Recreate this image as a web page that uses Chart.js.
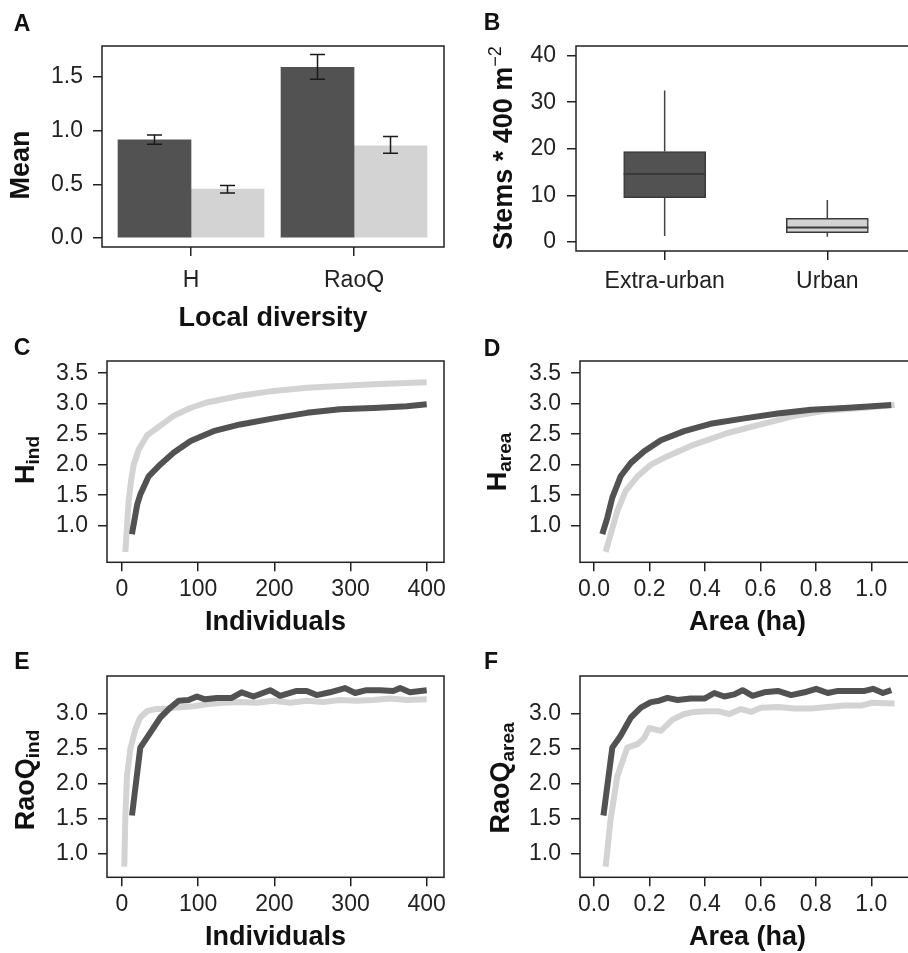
<!DOCTYPE html>
<html><head><meta charset="utf-8">
<script src="https://cdn.jsdelivr.net/npm/chart.js@4.4.1/dist/chart.umd.min.js"></script>
<style>
html,body{margin:0;padding:0;background:#fff;overflow:hidden}
#fig{position:relative;width:908px;height:953px;overflow:hidden;background:#fff}
#fig canvas{position:absolute}
.lbl{position:absolute;font-family:"Liberation Sans",Arial,Helvetica,sans-serif;color:#111;white-space:nowrap;line-height:1}
.letter{font-weight:bold;font-size:23px;transform:translate(-50%,-50%)}
.ytitle{font-weight:bold;font-size:27px;transform:translate(-50%,-50%) rotate(-90deg)}
.ytitle sub{font-size:19px;line-height:0;vertical-align:-0.3em}
.ytitle sup{font-size:18px;font-weight:normal;line-height:0;vertical-align:0.6em}
</style></head><body>
<div id="fig">
<canvas id="cA" width="454" height="350" style="left:0;top:0"></canvas>
<canvas id="cB" width="470" height="330" style="left:454px;top:0"></canvas>
<canvas id="cC" width="454" height="330" style="left:0;top:320px"></canvas>
<canvas id="cD" width="470" height="330" style="left:454px;top:320px"></canvas>
<canvas id="cE" width="454" height="330" style="left:0;top:635px"></canvas>
<canvas id="cF" width="470" height="330" style="left:454px;top:635px"></canvas>
<div class="lbl letter" style="left:22px;top:23px">A</div>
<div class="lbl letter" style="left:492px;top:22px">B</div>
<div class="lbl letter" style="left:22px;top:347px">C</div>
<div class="lbl letter" style="left:492px;top:348px">D</div>
<div class="lbl letter" style="left:22px;top:661px">E</div>
<div class="lbl letter" style="left:491px;top:661px">F</div>
<div class="lbl ytitle" style="left:20px;top:165px">Mean</div>
<div class="lbl ytitle" style="left:503px;top:148px">Stems * 400 m<sup>−2</sup></div>
<div class="lbl ytitle" style="left:25px;top:460px">H<sub>ind</sub></div>
<div class="lbl ytitle" style="left:497px;top:462px">H<sub>area</sub></div>
<div class="lbl ytitle" style="left:25px;top:780px">RaoQ<sub>ind</sub></div>
<div class="lbl ytitle" style="left:500px;top:778px">RaoQ<sub>area</sub></div>
</div>
<script>
// ---------- DATA ----------
// Panel A: local diversity means (extra-urban dark, urban light)
const catA = ['H', 'RaoQ'];
const meanExtra = [0.915, 1.59];
const meanUrban = [0.456, 0.86];
const errExtraLo = [0.875, 1.48];
const errExtraHi = [0.96, 1.71];
const errUrbanLo = [0.42, 0.79];
const errUrbanHi = [0.49, 0.947];
const ticksA = [0, 0.5, 1.0, 1.5];

// Panel B: stem density boxplots
const catB = ['Extra-urban', 'Urban'];
const boxMin = [1.3, 1.15];
const boxQ1 = [9.5, 2.0];
const boxMed = [14.6, 3.1];
const boxQ3 = [19.4, 5.1];
const boxMax = [32.5, 9.0];
const ticksB = [0, 10, 20, 30, 40];

// Panel C: H vs individuals
const cDarkX = [13, 20, 24, 35, 50, 68, 90, 120, 155, 199, 243, 286, 330, 374, 400];
const cDarkY = [0.86, 1.35, 1.51, 1.81, 2.0, 2.2, 2.39, 2.55, 2.66, 2.76, 2.85, 2.91, 2.93, 2.96, 2.99];
const cLightX = [4.4, 6.5, 8.7, 11.8, 15.3, 21.9, 32.8, 45.9, 67.7, 89.6, 111, 155, 199, 243, 286, 330, 400];
const cLightY = [0.57, 0.97, 1.40, 1.73, 2.0, 2.25, 2.48, 2.60, 2.80, 2.93, 3.02, 3.13, 3.21, 3.26, 3.29, 3.32, 3.35];

// Panel D: H vs area
const dDarkX = [0.030, 0.048, 0.066, 0.096, 0.133, 0.181, 0.241, 0.325, 0.42, 0.542, 0.663, 0.783, 0.904, 1.072];
const dDarkY = [0.86, 1.13, 1.46, 1.81, 2.03, 2.22, 2.40, 2.55, 2.67, 2.76, 2.84, 2.90, 2.93, 2.98];
const dLightX = [0.042, 0.060, 0.084, 0.114, 0.157, 0.205, 0.265, 0.361, 0.482, 0.602, 0.723, 0.843, 0.964, 1.084];
const dLightY = [0.57, 0.86, 1.24, 1.57, 1.81, 2.0, 2.14, 2.33, 2.52, 2.66, 2.80, 2.89, 2.93, 2.98];

// Panel E: RaoQ vs individuals
const eDarkX = [13.1, 24, 37, 50.3, 63.4, 74.3, 87.4, 98.3, 109, 124.5, 144, 157, 172.6, 194.5, 207.6, 229.4, 242.5, 255.6, 273, 292.8, 306, 321, 338.7, 356, 365, 378, 400];
const eDarkY = [1.55, 2.52, 2.73, 2.95, 3.09, 3.19, 3.20, 3.25, 3.21, 3.23, 3.23, 3.31, 3.25, 3.34, 3.26, 3.33, 3.33, 3.27, 3.31, 3.37, 3.30, 3.34, 3.34, 3.33, 3.37, 3.31, 3.34];
const eLightX = [3, 4.4, 6.5, 10.9, 17.5, 24, 32.8, 43.7, 56.8, 67.7, 80.8, 94, 111, 133, 155, 177, 199, 221, 242.5, 264, 286, 308, 330, 352, 374, 400];
const eLightY = [0.82, 1.54, 2.11, 2.50, 2.78, 2.95, 3.04, 3.07, 3.07, 3.09, 3.10, 3.11, 3.14, 3.16, 3.17, 3.16, 3.19, 3.16, 3.19, 3.17, 3.20, 3.19, 3.20, 3.22, 3.20, 3.21];

// Panel F: RaoQ vs area
const fDarkX = [0.034, 0.066, 0.096, 0.133, 0.169, 0.205, 0.235, 0.265, 0.301, 0.349, 0.398, 0.434, 0.470, 0.506, 0.536, 0.572, 0.614, 0.663, 0.711, 0.759, 0.801, 0.843, 0.88, 0.928, 0.976, 1.006, 1.042, 1.072];
const fDarkY = [1.55, 2.52, 2.69, 2.95, 3.09, 3.17, 3.19, 3.23, 3.20, 3.22, 3.22, 3.30, 3.25, 3.28, 3.34, 3.26, 3.31, 3.33, 3.27, 3.31, 3.36, 3.30, 3.33, 3.33, 3.33, 3.36, 3.30, 3.34];
const fLightX = [0.042, 0.060, 0.084, 0.12, 0.157, 0.181, 0.199, 0.241, 0.283, 0.325, 0.361, 0.41, 0.446, 0.488, 0.53, 0.566, 0.602, 0.663, 0.723, 0.783, 0.843, 0.904, 0.964, 1.0, 1.084];
const fLightY = [0.82, 1.50, 2.11, 2.52, 2.57, 2.66, 2.80, 2.76, 2.92, 3.0, 3.03, 3.04, 3.04, 3.0, 3.07, 3.03, 3.09, 3.10, 3.08, 3.08, 3.10, 3.12, 3.12, 3.16, 3.15];

const ticksHY = [1.0, 1.5, 2.0, 2.5, 3.0, 3.5];
const ticksRaoY = [1.0, 1.5, 2.0, 2.5, 3.0];
const ticksInd = [0, 100, 200, 300, 400];
const ticksArea = [0, 0.2, 0.4, 0.6, 0.8, 1.0];

// ---------- STYLE / HELPERS ----------
const FONT = "'Liberation Sans', Arial, Helvetica, sans-serif";
const INK = '#222222';
const DARK = '#525252';
const LIGHT = '#d3d3d3';
const f1 = v => Number(v).toFixed(1);
const f0 = v => String(Math.round(v));

function gridOpts() {
  return { display: true, drawOnChartArea: false, drawTicks: true, tickLength: 9, offset: false,
           lineWidth: 1.5, tickWidth: 1.5, color: INK, tickColor: INK };
}
function yAxis(min, max, ticks, fmt, width, pad) {
  return {
    type: 'linear', position: 'left', min, max, bounds: 'data', offset: false,
    afterBuildTicks: s => { s.ticks = ticks.map(v => ({ value: v })); },
    afterFit: s => { s.width = width; s.paddingTop = 0; s.paddingBottom = 0; },
    ticks: { callback: v => fmt(v), color: INK, font: { family: FONT, size: 23 }, padding: pad, autoSkip: false },
    grid: gridOpts(), border: { display: false }
  };
}
function xAxis(min, max, ticks, fmt, height, pad, title, titlePb) {
  return {
    type: 'linear', position: 'bottom', min, max, bounds: 'data', offset: false,
    afterBuildTicks: s => { s.ticks = ticks.map(v => ({ value: v })); },
    afterFit: s => { s.height = height; s.paddingLeft = 0; s.paddingRight = 0; },
    ticks: { callback: v => fmt(v), color: INK, font: { family: FONT, size: 23 }, padding: pad, autoSkip: false, maxRotation: 0, minRotation: 0 },
    grid: gridOpts(), border: { display: false },
    title: title ? { display: true, text: title, color: '#111', font: { family: FONT, size: 27, weight: 'bold' }, padding: { top: 0, bottom: titlePb } } : { display: false }
  };
}
const framePlugin = {
  id: 'frame',
  afterDraw(chart) {
    const { ctx, chartArea: a } = chart;
    ctx.save();
    ctx.strokeStyle = INK; ctx.lineWidth = 1.5;
    ctx.strokeRect(a.left, a.top, a.right - a.left, a.bottom - a.top);
    ctx.restore();
  }
};
const errPlugin = {
  id: 'errbars',
  afterDatasetsDraw(chart) {
    const y = chart.scales.y, ctx = chart.ctx;
    ctx.save(); ctx.strokeStyle = '#1a1a1a'; ctx.lineWidth = 1.5;
    chart.data.datasets.forEach((ds, di) => {
      chart.getDatasetMeta(di).data.forEach((bar, i) => {
        const lo = y.getPixelForValue(ds.errLo[i]), hi = y.getPixelForValue(ds.errHi[i]), x = bar.x;
        ctx.beginPath();
        ctx.moveTo(x, lo); ctx.lineTo(x, hi);
        ctx.moveTo(x - 7.5, lo); ctx.lineTo(x + 7.5, lo);
        ctx.moveTo(x - 7.5, hi); ctx.lineTo(x + 7.5, hi);
        ctx.stroke();
      });
    });
    ctx.restore();
  }
};
const boxPlugin = {
  id: 'boxparts',
  afterDatasetsDraw(chart) {
    const y = chart.scales.y, ctx = chart.ctx;
    const ds = chart.data.datasets[0];
    ctx.save();
    chart.getDatasetMeta(0).data.forEach((bar, i) => {
      const x = bar.x, hw = bar.width / 2;
      ctx.strokeStyle = '#444'; ctx.lineWidth = 1.5;
      ctx.beginPath();
      ctx.moveTo(x, y.getPixelForValue(ds.q3[i])); ctx.lineTo(x, y.getPixelForValue(ds.whiskHi[i]));
      ctx.moveTo(x, y.getPixelForValue(ds.q1[i])); ctx.lineTo(x, y.getPixelForValue(ds.whiskLo[i]));
      ctx.stroke();
      ctx.strokeStyle = '#3a3a3a'; ctx.lineWidth = 2;
      ctx.beginPath();
      const m = y.getPixelForValue(ds.median[i]);
      ctx.moveTo(x - hw, m); ctx.lineTo(x + hw, m);
      ctx.stroke();
    });
    ctx.restore();
  }
};
const pts = (xs, ys) => xs.map((x, i) => ({ x, y: ys[i] }));
function lineDs(xs, ys, color) {
  return { type: 'line', data: pts(xs, ys), borderColor: color, backgroundColor: color, borderWidth: 6,
           pointRadius: 0, tension: 0, borderJoinStyle: 'round', borderCapStyle: 'butt', fill: false };
}
const base = (padTop, padRight) => ({
  responsive: false, animation: false, devicePixelRatio: 1,
  layout: { padding: { top: padTop, right: padRight, left: 0, bottom: 0 } },
  plugins: { legend: { display: false }, tooltip: { enabled: false } }
});

// ---------- PANEL A ----------
new Chart(document.getElementById('cA'), {
  type: 'bar',
  data: {
    datasets: [
      { label: 'Extra-urban', data: pts([1, 2], meanExtra), backgroundColor: DARK, borderWidth: 0, errLo: errExtraLo, errHi: errExtraHi },
      { label: 'Urban', data: pts([1, 2], meanUrban), backgroundColor: LIGHT, borderWidth: 0, errLo: errUrbanLo, errHi: errUrbanHi }
    ]
  },
  options: Object.assign(base(46, 10), {
    datasets: { bar: { barThickness: 73, grouped: true } },
    scales: {
      x: xAxis(0.454, 2.552, [1, 2], v => catA[Math.round(v) - 1], 103, 11, 'Local diversity', 14.8),
      y: yAxis(-0.084, 1.79, ticksA, f1, 102, 10)
    }
  }),
  plugins: [errPlugin, framePlugin]
});

// ---------- PANEL B ----------
new Chart(document.getElementById('cB'), {
  type: 'bar',
  data: {
    datasets: [{
      label: 'Stems', data: boxQ1.map((q, i) => ({ x: i + 1, y: [q, boxQ3[i]] })),
      backgroundColor: [DARK, LIGHT], borderColor: '#3a3a3a', borderWidth: 1.5, borderSkipped: false,
      q1: boxQ1, q3: boxQ3, median: boxMed, whiskLo: boxMin, whiskHi: boxMax
    }]
  },
  options: Object.assign(base(46, 8), {
    datasets: { bar: { barThickness: 82 } },
    scales: {
      x: xAxis(0.455, 2.545, [1, 2], v => catB[Math.round(v) - 1], 79, 8, null, 0),
      y: yAxis(-1.93, 42.06, ticksB, f0, 122, 11)
    }
  }),
  plugins: [boxPlugin, framePlugin]
});

// ---------- PANELS C-F ----------
function curvePanel(id, darkX, darkY, lightX, lightY, xmin, xmax, xt, xfmt, ymin, ymax, yt, yAxW, padRight, xTitle) {
  new Chart(document.getElementById(id), {
    type: 'line',
    data: { datasets: [
      Object.assign(lineDs(darkX, darkY, DARK), { label: 'Extra-urban' }),
      Object.assign(lineDs(lightX, lightY, LIGHT), { label: 'Urban' })
    ] },
    options: Object.assign(base(41, padRight), {
      scales: {
        x: xAxis(xmin, xmax, xt, xfmt, 87.7, 5, xTitle, 10.8),
        y: yAxis(ymin, ymax, yt, f1, yAxW, 10)
      }
    }),
    plugins: [framePlugin]
  });
}
curvePanel('cC', cDarkX, cDarkY, cLightX, cLightY, -19.7, 422.7, ticksInd, f0, 0.40, 3.70, ticksHY, 107, 10, 'Individuals');
curvePanel('cD', dDarkX, dDarkY, dLightX, dLightY, -0.0505, 1.1576, ticksArea, f1, 0.40, 3.70, ticksHY, 126, 9, 'Area (ha)');
curvePanel('cE', eDarkX, eDarkY, eLightX, eLightY, -19.7, 422.7, ticksInd, f0, 0.667, 3.543, ticksRaoY, 107, 10, 'Individuals');
curvePanel('cF', fDarkX, fDarkY, fLightX, fLightY, -0.0505, 1.1576, ticksArea, f1, 0.667, 3.543, ticksRaoY, 126, 9, 'Area (ha)');
</script>
</body></html>
